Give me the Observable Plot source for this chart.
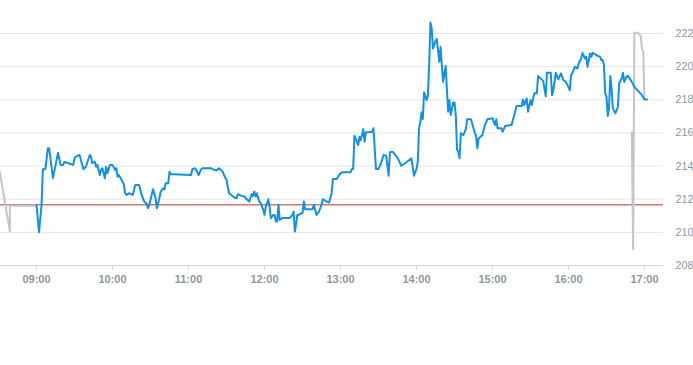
<!DOCTYPE html>
<html>
<head>
<meta charset="utf-8">
<script src="https://cdn.jsdelivr.net/npm/d3@7"></script>
<script src="https://cdn.jsdelivr.net/npm/@observablehq/plot@0.6"></script>
<style>
  html, body { margin: 0; padding: 0; background: #ffffff; }
  #chart { width: 693px; height: 365px; overflow: hidden; }
</style>
</head>
<body>
<div id="chart"></div>
<script>
// ---- data ----
const priceTimes = ["09:00","09:02","09:04","09:05","09:07","09:09","09:10","09:13","09:17","09:19","09:21","09:22","09:29","09:30","09:31","09:34","09:37","09:39","09:42","09:43","09:44","09:46","09:47","09:48","09:50","09:51","09:52","09:54","09:55","09:56","09:58",
"10:00","10:02","10:03","10:04","10:05","10:08","10:09","10:10","10:11","10:13","10:16","10:18","10:21","10:23","10:25","10:27","10:28","10:29","10:32","10:34","10:35","10:37","10:38","10:40","10:41","10:42","10:44","10:45","10:46","10:48",
"11:02","11:03","11:05","11:06","11:08","11:10","11:11","11:18","11:20","11:22","11:24","11:27","11:28","11:30","11:32","11:36","11:38","11:39","11:42","11:44","11:46","11:48","11:50","11:51","11:52","11:53","11:54","11:55","11:56","11:57","11:59",
"12:00","12:01","12:03","12:04","12:05","12:07","12:08","12:09","12:10","12:11","12:12","12:14","12:20","12:22","12:23","12:24","12:26","12:27","12:29","12:30","12:31","12:32","12:34","12:38","12:39","12:41","12:43","12:45","12:46","12:49","12:51","12:53","12:54","12:57","12:59",
"13:01","13:08","13:09","13:10","13:11","13:14","13:15","13:16","13:18","13:19","13:20","13:22","13:25","13:26","13:28","13:30","13:32","13:34","13:36","13:38","13:39","13:41","13:43","13:45","13:48","13:51","13:56","13:58",
"14:00","14:01","14:02","14:03","14:04","14:05","14:06","14:08","14:09","14:10","14:11","14:12","14:13","14:15","14:16","14:18","14:19","14:20","14:21","14:23","14:24","14:25","14:26","14:27","14:29","14:30","14:31","14:32","14:33","14:34","14:35","14:37","14:39","14:40","14:43","14:46","14:47","14:48","14:49","14:52","14:54","14:56",
"15:00","15:02","15:03","15:04","15:07","15:08","15:10","15:15","15:17","15:19","15:23","15:24","15:25","15:27","15:28","15:30","15:31","15:33","15:35","15:36","15:38","15:40","15:42","15:43","15:46","15:47","15:48","15:50","15:52","15:54","15:56","15:58",
"16:01","16:02","16:03","16:05","16:07","16:08","16:10","16:11","16:13","16:14","16:15","16:17","16:18","16:19","16:22","16:25","16:26","16:27","16:28","16:29","16:30","16:31","16:32","16:33","16:34","16:35","16:37","16:39","16:40","16:42","16:43","16:44","16:46","16:47","16:50","16:52","16:58",
"17:00","17:02"];
const priceValues = [211.66,210.01,211.66,213.81,213.81,215.07,215.07,213.27,214.81,214.07,214.07,214.25,214.07,214.47,214.57,214.67,213.81,213.96,214.67,214.57,214.17,214.27,213.96,214.07,213.46,213.77,213.87,213.27,213.96,213.57,214.07,
214.07,213.77,213.87,213.36,213.46,213.06,212.86,212.36,212.26,212.36,212.26,212.86,212.86,212.26,211.86,211.72,211.46,211.66,212.60,212.06,211.46,212.06,212.46,212.66,212.60,212.96,212.96,213.66,213.50,213.50,
213.46,213.81,213.87,213.77,213.46,213.81,213.87,213.87,213.77,213.73,213.87,213.66,213.46,213.16,212.36,212.12,212.06,212.30,212.20,212.16,212.00,211.86,212.32,212.20,212.46,212.16,212.36,212.06,211.86,211.76,211.36,
211.05,211.55,212.00,211.55,210.86,211.05,211.05,210.65,210.65,211.66,210.75,210.86,210.86,211.05,211.25,210.05,211.05,211.05,211.16,211.16,211.86,211.40,211.40,211.40,211.66,211.05,211.25,211.66,212.00,211.86,211.80,212.36,213.22,213.22,213.46,
213.63,213.63,213.83,213.83,215.83,215.27,215.77,215.57,216.23,215.47,216.04,216.04,216.07,216.28,213.83,213.83,214.17,214.67,214.63,213.42,214.83,214.87,214.71,214.51,214.02,214.17,214.47,213.42,
213.83,214.27,216.28,216.67,217.24,216.84,218.45,217.98,218.24,220.09,222.66,222.30,221.10,221.54,221.66,220.29,221.19,220.09,219.08,220.05,218.64,217.28,217.98,217.08,217.84,217.84,217.08,214.97,214.87,214.47,215.98,215.87,216.25,216.82,216.82,216.01,215.81,215.07,215.67,215.87,216.48,216.82,
216.88,216.48,216.82,216.28,216.28,216.07,216.42,216.48,217.02,217.62,217.62,218.02,217.68,218.08,217.28,217.98,217.68,218.39,218.39,219.43,219.29,219.14,218.22,219.63,219.63,218.28,218.58,219.63,219.23,219.59,219.19,219.08,
218.58,219.49,219.59,219.99,219.89,220.19,220.49,220.83,220.49,220.59,219.99,220.80,220.59,220.83,220.69,220.59,220.39,220.40,220.10,218.39,218.18,217.02,217.50,219.43,218.69,217.48,217.18,217.58,219.00,219.29,219.63,219.08,219.43,219.43,219.08,218.78,218.28,
218.02,218.02];

// grey series before the session
const preTimes = ["08:31","08:39","08:39","09:00"];
const preValues = [213.66,210.05,211.60,211.60];
// grey series after the session
const postTimes = ["16:50","16:51","16:52","16:55","16:57","16:58","16:59","17:00"];
const postValues = [216.04,208.99,222.04,222.04,221.84,221.04,220.95,218.02];

// reference level (red line)
const referenceLevel = [211.66];

// axis ticks
const yTicks = [208, 210, 212, 214, 216, 218, 220, 222];
const xTickLabels = ["09:00","10:00","11:00","12:00","13:00","14:00","15:00","16:00","17:00"];

// ---- helpers ----
const toDate = (s) => { const [h, m] = s.split(":").map(Number); return new Date(Date.UTC(2024, 0, 2, h, m)); };
const zip = (ts, vs) => ts.map((t, i) => ({time: toDate(t), value: vs[i]}));
const price = zip(priceTimes, priceValues);
const pre = zip(preTimes, preValues);
const post = zip(postTimes, postValues);

const chart = Plot.plot({
  width: 693,
  height: 365,
  marginLeft: 0,
  marginRight: 30,
  marginTop: 0,
  marginBottom: 100,
  style: {fontFamily: "'Liberation Sans', Arial, sans-serif", fontSize: "11px", background: "#ffffff", overflow: "visible"},
  x: {type: "utc", domain: [toDate("09:00"), toDate("17:00")], range: [36, 644]},
  y: {domain: [208, 222], range: [265, 33]},
  marks: [
    Plot.ruleY(yTicks.filter(d => d > 208), {stroke: "#e6e6e6", strokeWidth: 1}),
    Plot.ruleY([208], {stroke: "#ccd6eb", strokeWidth: 1}),
    Plot.ruleY(referenceLevel, {stroke: "#b5352a", strokeWidth: 1}),
    Plot.line(pre, {x: "time", y: "value", stroke: "#bfc7cd", strokeWidth: 2, curve: "linear"}),
    Plot.line(post, {x: "time", y: "value", stroke: "#bfc7cd", strokeWidth: 2, curve: "linear"}),
    Plot.line(price, {x: "time", y: "value", stroke: "#1490e0", strokeWidth: 2, curve: "linear"}),
    Plot.axisX(xTickLabels.map(toDate), {
      tickFormat: d3.utcFormat("%H:%M"), tickSize: 4, tickPadding: 6,
      stroke: "#ccd6eb", fill: "#8e979f", fontWeight: "bold", fontSize: 11, label: null
    }),
    Plot.axisY(yTicks, {
      anchor: "right", tickSize: 0, tickPadding: 12, fill: "#8e979f", fontSize: 10.8, label: null
    })
  ]
});
document.getElementById("chart").appendChild(chart);
</script>
</body>
</html>
